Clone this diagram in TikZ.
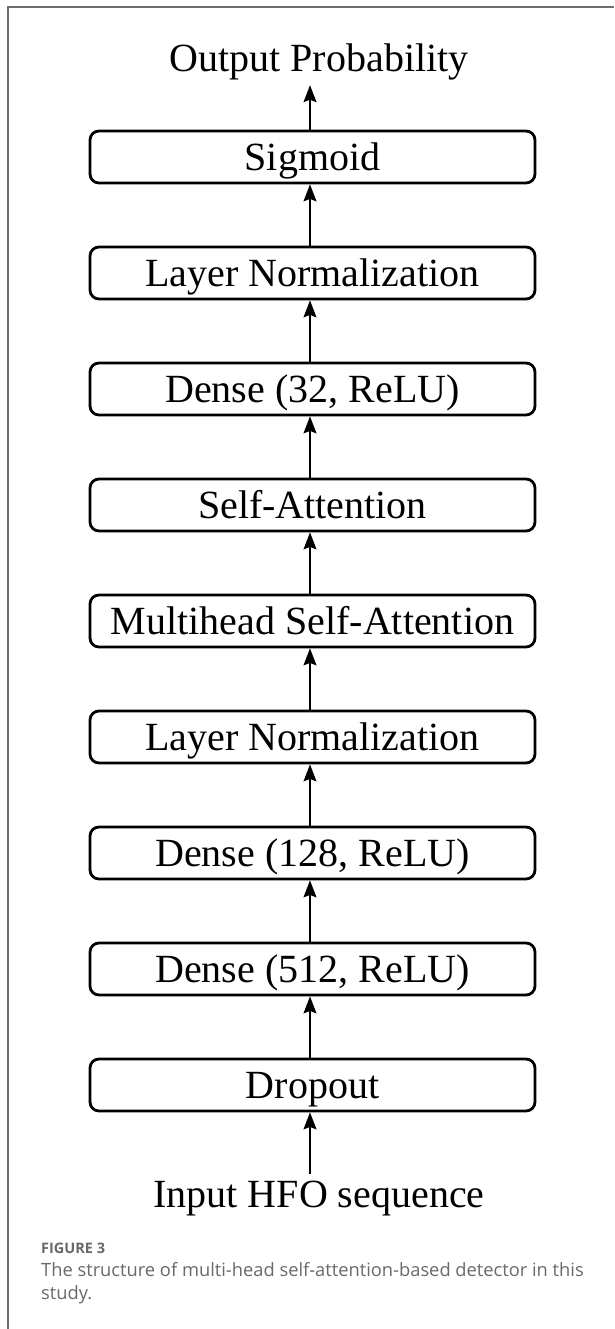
\documentclass[tikz,border=0pt]{standalone}
\usepackage{fontspec}
\setmainfont{Liberation Serif}
\newfontfamily\capfont{Open Sans}
\usetikzlibrary{arrows.meta}
\definecolor{framegray}{RGB}{110,110,110}
\definecolor{capgray}{RGB}{105,105,105}
\begin{document}
\begin{tikzpicture}[x=1pt,y=-1pt,
  layerbox/.style={draw, line width=2.8pt, rounded corners=9pt,
    minimum width=445pt, minimum height=52pt, inner sep=0pt,
    font=\fontsize{40}{48}\selectfont, text height=27pt, text depth=0pt},
  endtext/.style={inner sep=0pt, font=\fontsize{40}{48}\selectfont,
    text height=27pt, text depth=9pt},
  arr/.style={line width=1.4pt, -{Stealth[length=17pt,width=13pt,inset=2.5pt]}},
  frameline/.style={draw=framegray, line width=2pt},
  capfig/.style={inner sep=0pt, anchor=base west, text=capgray,
    font=\capfont\bfseries\fontsize{14.5}{17}\selectfont},
  captext/.style={inner sep=0pt, anchor=base west, text=capgray,
    font=\capfont\fontsize{18.3}{23}\selectfont}
]
\useasboundingbox (0,0) rectangle (614,1329);
\fill[white] (0,0) rectangle (614,1329);
% frame
\coordinate (fbl) at (7.5,1329);
\coordinate (ftl) at (7.5,7.5);
\coordinate (ftr) at (614,7.5);
\draw[frameline] (fbl) -- (ftl) -- (ftr);

% end texts
\node[endtext, anchor=base] (out) at (319,72) {Output Probability};
\node[endtext, anchor=base] (in) at (319,1207) {Input HFO sequence};

% layers
\node[layerbox] (sig)  at (312.5,157)  {Sigmoid};
\node[layerbox] (ln1)  at (312.5,273)  {Layer Normalization};
\node[layerbox] (d32)  at (312.5,389)  {Dense (32, ReLU)};
\node[layerbox] (sa)   at (312.5,505)  {Self-Attention};
\node[layerbox] (mhsa) at (312.5,621)  {Multihead Self-Attention};
\node[layerbox] (ln2)  at (312.5,737)  {Layer Normalization};
\node[layerbox] (d128) at (312.5,853)  {Dense (128, ReLU)};
\node[layerbox] (d512) at (312.5,969)  {Dense (512, ReLU)};
\node[layerbox] (drop) at (312.5,1085) {Dropout};

% arrows
\coordinate (inTop) at ([xshift=-9pt,yshift=6pt]in.north);
\coordinate (outBot) at ([xshift=-9pt,yshift=-4pt]out.south);
\draw[arr] (inTop) -- ([xshift=-2.5pt]drop.south);
\draw[arr] ([xshift=-2.5pt]drop.north) -- ([xshift=-2.5pt]d512.south);
\draw[arr] ([xshift=-2.5pt]d512.north) -- ([xshift=-2.5pt]d128.south);
\draw[arr] ([xshift=-2.5pt]d128.north) -- ([xshift=-2.5pt]ln2.south);
\draw[arr] ([xshift=-2.5pt]ln2.north) -- ([xshift=-2.5pt]mhsa.south);
\draw[arr] ([xshift=-2.5pt]mhsa.north) -- ([xshift=-2.5pt]sa.south);
\draw[arr] ([xshift=-2.5pt]sa.north) -- ([xshift=-2.5pt]d32.south);
\draw[arr] ([xshift=-2.5pt]d32.north) -- ([xshift=-2.5pt]ln1.south);
\draw[arr] ([xshift=-2.5pt]ln1.north) -- ([xshift=-2.5pt]sig.south);
\draw[arr] ([xshift=-2.5pt]sig.north) -- (outBot);

% caption
\node[capfig] (fig) at (41,1253) {FIGURE 3};
\node[captext] (cap1) at (41,1276) {The structure of multi-head self-attention-based detector in this};
\node[captext] (cap2) at (41,1299) {study.};
\end{tikzpicture}
\end{document}
